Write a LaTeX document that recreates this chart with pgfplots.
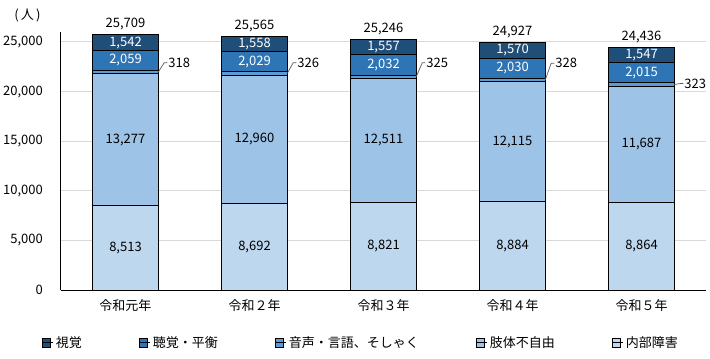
\documentclass[border=0pt]{standalone}
\usepackage{pgfplots}
\pgfplotsset{compat=1.18}
\usepackage{pgfplotstable}
\usepackage{fontspec}
\setmainfont{Noto Sans CJK JP}
\definecolor{cShikaku}{HTML}{1F4E79}
\definecolor{cChoukaku}{HTML}{2E75B6}
\definecolor{cOnsei}{HTML}{5B9BD5}
\definecolor{cShitai}{HTML}{9DC3E6}
\definecolor{cNaibu}{HTML}{BDD7EE}
\pgfplotstableread{
x naibu shitai onsei choukaku shikaku total ly
0 8513 13277 318 2059 1542 25709 22900
1 8692 12960 326 2029 1558 25565 22900
2 8821 12511 325 2032 1557 25246 22900
3 8884 12115 328 2030 1570 24927 22850
4 8864 11687 323 2015 1547 24436 20800
}\data
\begin{document}
\fontsize{13bp}{15bp}\selectfont
\begin{tikzpicture}
\useasboundingbox (-61bp,-69bp) rectangle (649bp,290bp);
\begin{axis}[
  scale only axis, width=645bp, height=258bp,
  xmin=-0.5, xmax=4.5, ymin=0, ymax=26000,
  ybar stacked, bar width=0.507,
  axis lines*=left,
  axis line style={black, line width=1bp},
  xtick={0,1,2,3,4},
  xticklabels={令和元年,令和２年,令和３年,令和４年,令和５年},
  xticklabel style={anchor=north, inner sep=0pt, yshift=-9bp},
  ytick={0,5000,10000,15000,20000,25000},
  scaled y ticks=false,
  yticklabel={\pgfmathprintnumber[fixed,precision=0,1000 sep={,},assume math mode=true]{\tick}},
  yticklabel style={anchor=east, inner sep=0pt, xshift=-18bp},
  major tick length=0pt,
  ymajorgrids, grid style={color=black!15, line width=1bp},
  legend image code/.code={\draw[#1, draw=black, line width=1bp] (0bp,-4.5bp) rectangle (8bp,4.5bp); \path (0bp,0bp) -- (11bp,0bp);},
  legend style={at={(0.465,-0.205)}, anchor=center, draw=none, legend columns=5, inner sep=0pt, /tikz/every even column/.append style={column sep=55bp}},
  reverse legend,
]
\addplot[fill=cNaibu, draw=black, line width=1bp] table[x=x,y=naibu]{\data};
\addplot[fill=cShitai, draw=black, line width=1bp] table[x=x,y=shitai]{\data};
\addplot[fill=cOnsei, draw=black, line width=1bp] table[x=x,y=onsei]{\data};
\addplot[fill=cChoukaku, draw=black, line width=1bp] table[x=x,y=choukaku]{\data};
\addplot[fill=cShikaku, draw=black, line width=1bp] table[x=x,y=shikaku]{\data};
\legend{内部障害,肢体不自由,音声・言語、そしゃく,聴覚・平衡,視覚}
\end{axis}
\begin{axis}[
  scale only axis, width=645bp, height=258bp,
  xmin=-0.5, xmax=4.5, ymin=0, ymax=26000,
  hide axis, clip=false,
  point meta=explicit,
  nodes near coords={\pgfmathprintnumber[fixed,precision=0,1000 sep={,},assume math mode=true]{\pgfplotspointmeta}},
  every node near coord/.append style={anchor=center, inner sep=0pt, text=black},
]
\addplot[only marks, mark=none] table[x=x, y expr=\thisrow{naibu}/2, meta=naibu]{\data};
\addplot[only marks, mark=none] table[x=x, y expr=\thisrow{naibu}+\thisrow{shitai}/2, meta=shitai]{\data};
\addplot[only marks, mark=none, every node near coord/.append style={text=white}] table[x=x, y expr=\thisrow{naibu}+\thisrow{shitai}+\thisrow{onsei}+\thisrow{choukaku}/2, meta=choukaku]{\data};
\addplot[only marks, mark=none, every node near coord/.append style={text=white}] table[x=x, y expr=\thisrow{total}-\thisrow{shikaku}/2, meta=shikaku]{\data};
\addplot[only marks, mark=none, every node near coord/.append style={anchor=base, yshift=7bp}] table[x=x, y=total, meta=total]{\data};
\addplot[only marks, mark=none, every node near coord/.append style={anchor=west}] table[x expr=\thisrow{x}+0.331, y=ly, meta=onsei]{\data};
\draw[black!65, line width=0.7bp] (axis cs:0.2535,21949) -- (axis cs:0.300,22900) -- (axis cs:0.325,22900);
\draw[black!65, line width=0.7bp] (axis cs:1.2535,21815) -- (axis cs:1.300,22900) -- (axis cs:1.325,22900);
\draw[black!65, line width=0.7bp] (axis cs:2.2535,21494) -- (axis cs:2.300,22900) -- (axis cs:2.325,22900);
\draw[black!65, line width=0.7bp] (axis cs:3.2535,21163) -- (axis cs:3.300,22850) -- (axis cs:3.325,22850);
\draw[black!65, line width=0.7bp] (axis cs:4.2535,20712) -- (axis cs:4.300,20800) -- (axis cs:4.325,20800);
\end{axis}
\node at (-33.5bp,275bp) {(\,人\,)};
\end{tikzpicture}
\end{document}
